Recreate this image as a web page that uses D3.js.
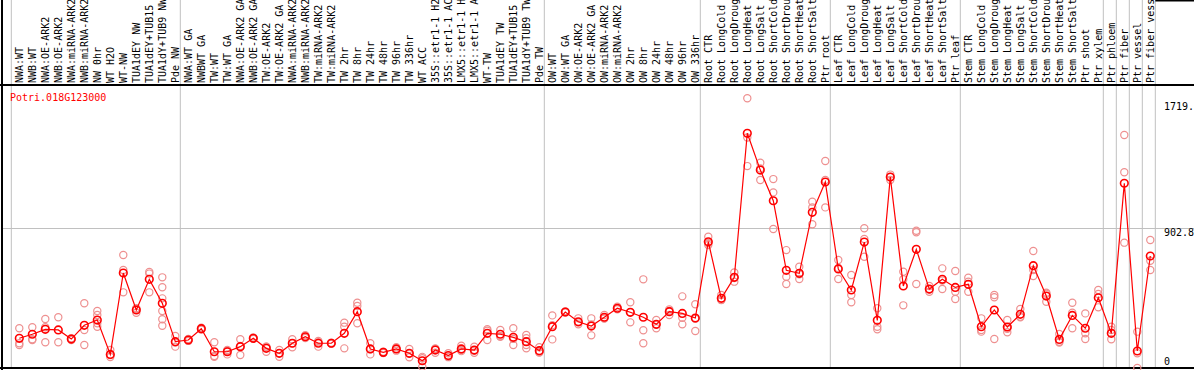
<!DOCTYPE html>
<html>
<head>
<script src="https://d3js.org/d3.v7.min.js"></script>
<style>
    body { margin: 0; background: #fff; }
    text { font: 10px "DejaVu Sans Mono", monospace; }
    .lab { fill: #000; }
    .gene { fill: red; }
</style>
</head>
<body>
<svg width="1194" height="370"></svg>
<script>
var samples = [
    "NWA:WT", "NWB:WT", "NWA:OE-ARK2", "NWB:OE-ARK2", "NWA:miRNA-ARK2", "NWB:miRNA-ARK2",
    "NW 0hr", "WT H2O", "WT-NW", "TUA1dEY NW", "TUA1dEY+TUB15 NW", "TUA1dY+TUB9 NW", "Pde NW",
    "NWA:WT GA", "NWBWT GA", "TW:WT", "TW:WT GA", "NWA:OE-ARK2 GA", "NWB:OE-ARK2 GA",
    "TW:OE-ARK2", "TW:OE-ARK2 GA", "NWA:miRNA-ARK2 GA", "NWB:miRNA-ARK2 GA", "TW:miRNA-ARK2",
    "TW:miRNA-ARK2 GA", "TW 2hr", "TW 8hr", "TW 24hr", "TW 48hr", "TW 96hr", "TW 336hr",
    "WT ACC", "35S::etr1-1 H2O", "35S::etr1-1 ACC", "LMX5::etr1-1 H2O", "LMX5::etr1-1 ACC",
    "WT-TW", "TUA1dEY TW", "TUA1dEY+TUB15 TW", "TUA1dY+TUB9 TW", "Pde TW",
    "OW:WT", "OW:WT GA", "OW:OE-ARK2", "OW:OE-ARK2 GA", "OW:miRNA-ARK2", "OW:miRNA-ARK2 GA",
    "OW 2hr", "OW 8hr", "OW 24hr", "OW 48hr", "OW 96hr", "OW 336hr",
    "Root CTR", "Root LongCold", "Root LongDrought", "Root LongHeat", "Root LongSalt",
    "Root ShortCold", "Root ShortDrought", "Root ShortHeat", "Root ShortSalt", "Ptr root",
    "Leaf CTR", "Leaf LongCold", "Leaf LongDrought", "Leaf LongHeat", "Leaf LongSalt",
    "Leaf ShortCold", "Leaf ShortDrought", "Leaf ShortHeat", "Leaf ShortSalt", "Ptr leaf",
    "Stem CTR", "Stem LongCold", "Stem LongDrought", "Stem LongHeat", "Stem LongSalt",
    "Stem ShortCold", "Stem ShortDrought", "Stem ShortHeat", "Stem ShortSalt", "Ptr shoot",
    "Ptr xylem", "Ptr phloem", "Ptr fiber", "Ptr vessel", "Ptr fiber vessel"
];

// mean expression per sample
var means = [
    192, 218, 250, 246, 187, 276, 310, 88, 614, 375, 573, 418, 170,
    181, 254, 105, 105, 138, 192, 127, 95, 160, 202, 160, 160, 224,
    364, 123, 101, 123, 95, 47, 116, 80, 123, 116, 224, 218, 198, 170, 112,
    267, 362, 299, 271, 328, 386, 360, 328, 282, 364, 353, 323,
    816, 450, 586, 1517, 1279, 1081, 631, 612, 1006, 1202,
    640, 504, 814, 308, 1234, 530, 767, 510, 573, 521,
    541, 267, 375, 265, 347, 661, 465, 185, 340, 257,
    454, 224, 1194, 110, 724
];

// replicate values per sample
var reps = [
    [257, 160, 149], [263, 186, 181], [317, 166, 263], [328, 166], [192, 181], [418, 246, 149],
    [368, 343, 289, 267], [116, 84, 71], [730, 633, 489], [386, 357, 381], [620, 489, 610],
    [586, 522, 450, 368, 315, 273], [207, 138, 165],
    [181, 188, 175], [254, 260, 248], [166, 73, 78], [116, 88, 110], [186, 84, 142], [192, 188, 197],
    [138, 105, 137], [116, 73, 96], [186, 134, 160], [202, 212, 194], [175, 138, 167], [160, 163, 157],
    [293, 267, 127], [422, 401, 289], [160, 88, 121], [101, 105, 97], [134, 112, 123], [123, 69, 93],
    [63, 8, 72], [123, 99, 126], [95, 73, 70], [144, 116, 109], [138, 99, 111],
    [250, 181, 241], [246, 202, 206], [257, 149, 188], [213, 192, 149, 127], [134, 100, 102],
    [340, 185, 276], [366, 358, 362], [321, 282, 294], [321, 211, 281], [343, 320, 321], [396, 380, 382],
    [425, 295, 360], [573, 244, 160], [310, 257, 279], [379, 343, 370], [463, 325, 282], [412, 239, 318],
    [848, 806, 795], [472, 439, 440], [618, 558, 582], [1743, 1305, 1490], [1327, 1215, 1290],
    [1221, 1135, 898], [762, 590, 543], [655, 575, 606], [1075, 1038, 929], [1338, 1215, 1038],
    [698, 575, 647], [601, 472, 425], [903, 834, 719], [386, 267, 250], [1250, 1234, 1215],
    [622, 573, 405], [887, 877, 543], [530, 493, 507], [644, 511, 565], [627, 493, 446],
    [584, 558, 493], [321, 246, 235], [472, 457, 187], [310, 231, 254], [381, 332, 328],
    [756, 595, 633], [487, 428, 480], [220, 170, 165], [422, 357, 257], [353, 224, 187],
    [504, 478, 392], [267, 246, 186], [1506, 1265, 810], [235, 0, 95], [827, 693, 633]
];

var groupStarts = [0, 13, 41, 53, 63, 73, 84, 85, 86, 87, 88];
var yTicks = [0, 902.8, 1719.6];
var geneName = "Potri.018G123000";

var svg = d3.select("svg"),
    width = +svg.attr("width"),
    height = +svg.attr("height");

var plotTop = 85, plotBottom = 368, plotLeft = 2;

var x = d3.scaleLinear().domain([0, samples.length - 1]).range([19.3, 1150.3]);
var y = d3.scaleLinear().domain([0, 1829]).range([plotBottom, plotTop]);

// group separators
svg.append("g").selectAll("line")
    .data(groupStarts)
    .enter().append("line")
    .attr("x1", function(d) { return x(d) - 8; })
    .attr("x2", function(d) { return x(d) - 8; })
    .attr("y1", 0).attr("y2", plotBottom)
    .attr("stroke", "#c0c0c0");

// middle horizontal grid line
svg.append("line")
    .attr("x1", plotLeft).attr("x2", width)
    .attr("y1", Math.round(y(yTicks[1])) + 0.5).attr("y2", Math.round(y(yTicks[1])) + 0.5)
    .attr("stroke", "#c0c0c0");

// frame
svg.append("line").attr("x1", 0).attr("x2", width).attr("y1", plotTop).attr("y2", plotTop)
    .attr("stroke", "#000").attr("stroke-width", 2);
svg.append("line").attr("x1", 0).attr("x2", width).attr("y1", plotBottom).attr("y2", plotBottom)
    .attr("stroke", "#000").attr("stroke-width", 2);
svg.append("line").attr("x1", plotLeft).attr("x2", plotLeft).attr("y1", 0).attr("y2", height)
    .attr("stroke", "#000").attr("stroke-width", 2);
svg.append("line").attr("x1", x(88) - 8).attr("x2", width).attr("y1", 0.5).attr("y2", 0.5)
    .attr("stroke", "#000").attr("stroke-width", 2);

// sample labels
svg.append("g").selectAll("text")
    .data(samples)
    .enter().append("text")
    .attr("class", "lab")
    .attr("transform", function(d, i) { return "translate(" + (x(i) + 3.5) + "," + (plotTop - 2) + ") rotate(-90)"; })
    .text(function(d) { return d; });

// y labels
svg.append("g").selectAll("text")
    .data(yTicks)
    .enter().append("text")
    .attr("class", "lab")
    .attr("x", 1164)
    .attr("y", function(d) { return Math.min(y(d), 357) + 8; })
    .text(function(d) { return d === 0 ? "0" : d.toFixed(1); });

svg.append("text").attr("class", "gene").attr("x", 10).attr("y", 101).text(geneName);

// replicates
var repPts = [];
reps.forEach(function(r, i) { r.forEach(function(v) { repPts.push({i: i, v: v}); }); });

svg.append("g").selectAll("circle")
    .data(repPts)
    .enter().append("circle")
    .attr("cx", function(d) { return x(d.i); })
    .attr("cy", function(d) { return y(d.v); })
    .attr("r", 3.6)
    .attr("fill", "none")
    .attr("stroke", "#ee9090")
    .attr("stroke-width", 1.2);

// mean line
var line = d3.line()
    .x(function(d, i) { return x(i); })
    .y(function(d) { return y(d); });

svg.append("path")
    .datum(means)
    .attr("d", line)
    .attr("fill", "none")
    .attr("stroke", "red")
    .attr("stroke-width", 1.2);

svg.append("g").selectAll("circle")
    .data(means)
    .enter().append("circle")
    .attr("cx", function(d, i) { return x(i); })
    .attr("cy", function(d) { return y(d); })
    .attr("r", 3.8)
    .attr("fill", "none")
    .attr("stroke", "red")
    .attr("stroke-width", 1.6);
</script>
</body>
</html>
